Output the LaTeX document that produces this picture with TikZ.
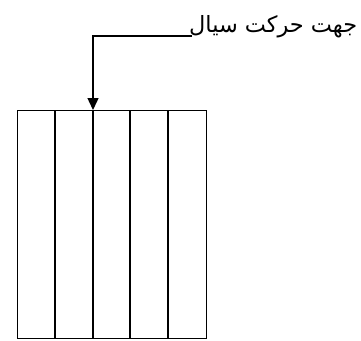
\documentclass[tikz,border=0pt]{standalone}
\usepackage{fontspec}
\newfontfamily\arabicfont[Script=Arabic]{DejaVu Sans}
\TeXXeTstate=1
\usetikzlibrary{arrows.meta}
\begin{document}
\begin{tikzpicture}[x=1pt,y=1pt,
  wall/.style={line width=1.2pt,black},
  flow/.style={line width=1.4pt,black,-{Triangle[length=12pt,width=11pt]}},
  lbl/.style={inner sep=0pt,font=\arabicfont\fontsize{22.4}{26}\selectfont}]
\useasboundingbox (0,0) rectangle (361,-340);
\node[lbl,anchor=base west] (t) at (189,-32) {\beginR جهت حرکت سیال\endR};
\coordinate (c) at (93,-36);
\coordinate (te) at (192,-36);
\node[draw,wall,minimum width=189pt,minimum height=228pt,inner sep=0pt,anchor=north west] (box) at (17,-110) {};
\foreach \x in {55,93,130,168}{
  \draw[wall] (box.north -| \x,0) -- (box.south -| \x,0);
}
\draw[line width=1.4pt] (te) -- (c) -- (93,-60);
\draw[flow] (93,-60) -- (box.north -| c);
\end{tikzpicture}
\end{document}
